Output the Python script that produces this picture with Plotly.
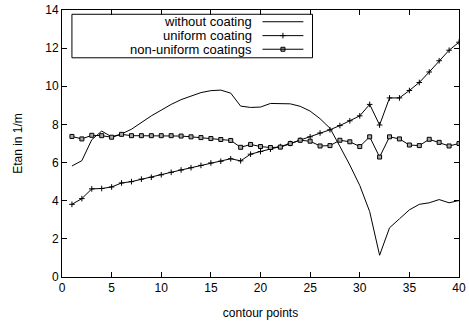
import plotly.graph_objects as go

x_points = list(range(1, 41))

without_coating = [5.82, 6.1, 7.2, 7.65, 7.35, 7.5, 7.75, 8.1, 8.45, 8.75,
                   9.05, 9.3, 9.5, 9.67, 9.77, 9.8, 9.64, 8.96, 8.89, 8.91,
                   9.1, 9.1, 9.08, 8.95, 8.7, 8.3, 7.8, 6.85, 5.87, 4.8,
                   3.43, 1.14, 2.58, 3.05, 3.52, 3.81, 3.89, 4.06, 3.89, 4.01]

uniform_coating = [3.81, 4.11, 4.62, 4.64, 4.72, 4.93, 5.0, 5.13, 5.23, 5.36,
                   5.49, 5.61, 5.73, 5.85, 5.98, 6.07, 6.2, 6.09, 6.44, 6.58,
                   6.7, 6.84, 7.0, 7.17, 7.35, 7.55, 7.72, 7.94, 8.19, 8.45,
                   9.05, 7.97, 9.39, 9.39, 9.78, 10.2, 10.75, 11.34, 11.89, 12.31]

non_uniform = [7.37, 7.24, 7.43, 7.41, 7.33, 7.48, 7.41, 7.41, 7.41, 7.41,
               7.41, 7.39, 7.35, 7.31, 7.26, 7.21, 7.16, 6.8, 6.95, 6.84,
               6.79, 6.81, 7.0, 7.17, 7.12, 6.87, 6.89, 7.17, 7.09, 6.84,
               7.35, 6.29, 7.35, 7.24, 6.92, 6.89, 7.22, 7.06, 6.87, 7.0]

series_names = ["without coating", "uniform coating", "non-uniform coatings"]
x_ticks = [0, 5, 10, 15, 20, 25, 30, 35, 40]
y_ticks = [0, 2, 4, 6, 8, 10, 12, 14]

FONT = "Liberation Sans, Arial, sans-serif"
line_style = dict(color="black", width=1)
plus_marker = dict(symbol="cross-thin", size=4, line=dict(color="black", width=1), color="black")
square_marker = dict(symbol="square", size=4, color="#a8a8a8", line=dict(color="black", width=1))

fig = go.Figure()
fig.add_trace(go.Scatter(x=x_points, y=without_coating, mode="lines", line=line_style,
                         name=series_names[0], showlegend=False))
fig.add_trace(go.Scatter(x=x_points, y=uniform_coating, mode="lines+markers", line=line_style,
                         marker=plus_marker, name=series_names[1], showlegend=False))
fig.add_trace(go.Scatter(x=x_points, y=non_uniform, mode="lines+markers", line=line_style,
                         marker=square_marker, name=series_names[2], showlegend=False))

# custom legend (gnuplot style: text right-aligned, sample to the right)
rows = [0.956, 0.904, 0.853]
for i, (name, yr) in enumerate(zip(series_names, rows)):
    fig.add_annotation(x=0.482, y=yr, xref="paper", yref="paper", text=name,
                       showarrow=False, xanchor="right", yanchor="middle",
                       borderpad=0, font=dict(family=FONT, size=13, color="black"))
    fig.add_shape(type="line", xref="paper", yref="paper", x0=0.505, x1=0.608,
                  y0=yr, y1=yr, line=line_style)
fig.add_trace(go.Scatter(x=[0.5565], y=[rows[1]], xaxis="x2", yaxis="y2", mode="markers",
                         marker=plus_marker, showlegend=False, hoverinfo="skip"))
fig.add_trace(go.Scatter(x=[0.5565], y=[rows[2]], xaxis="x2", yaxis="y2", mode="markers",
                         marker=square_marker, showlegend=False, hoverinfo="skip"))
fig.add_shape(type="rect", xref="paper", yref="paper", x0=0.025, x1=0.631, y0=0.821, y1=0.984,
              line=dict(color="black", width=1), fillcolor="white", layer="below")

axis_common = dict(showline=True, linecolor="black", linewidth=1, mirror="ticks",
                   ticks="inside", ticklen=5, tickcolor="black", showgrid=False,
                   zeroline=False, ticklabeloverflow="allow",
                   tickfont=dict(family=FONT, size=12, color="black"))

fig.update_layout(
    width=469, height=330,
    margin=dict(l=62, r=9, t=3, b=53),
    paper_bgcolor="white", plot_bgcolor="white",
    font=dict(family=FONT, size=12, color="black"),
    xaxis=dict(range=[0, 40], tickvals=x_ticks, title=dict(text="contour points", standoff=14,
               font=dict(family=FONT, size=12)), **axis_common),
    yaxis=dict(range=[0, 14], tickvals=y_ticks, title=dict(text="Etan in 1/m", standoff=20,
               font=dict(family=FONT, size=12)), **axis_common),
    xaxis2=dict(overlaying="x", range=[0, 1], visible=False),
    yaxis2=dict(overlaying="y", range=[0, 1], visible=False),
    showlegend=False,
)

fig.write_html("out.html")
